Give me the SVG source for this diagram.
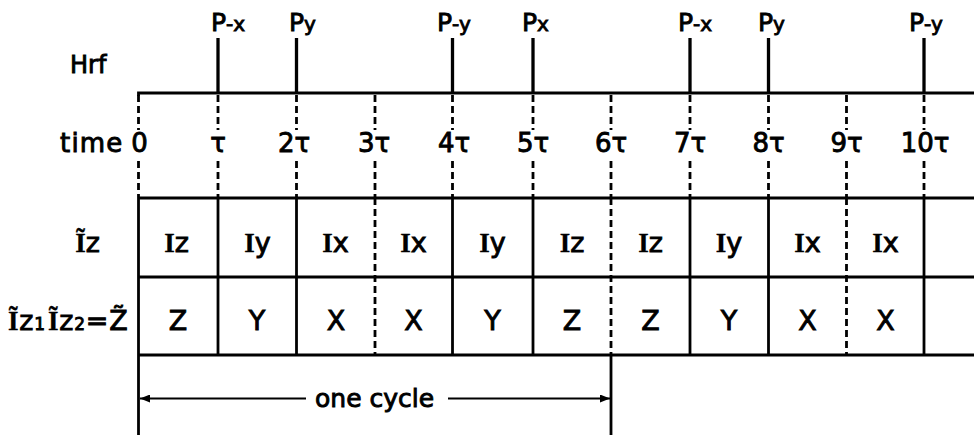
<svg xmlns="http://www.w3.org/2000/svg" width="974" height="437" viewBox="0 0 974 437">
<style>
  .t { font-family: "DejaVu Sans", "Liberation Sans", sans-serif; fill: #000; stroke: #000; stroke-width: 0.9; }
  .big { font-size: 26px; }
  .cell { font-size: 27px; text-anchor: middle; }
  .tm { font-size: 26px; text-anchor: middle; }
  .pl { font-size: 25px; }
  .sub { font-size: 20px; }
  .ser { font-family: "Liberation Serif", "Times New Roman", serif; font-weight: bold; stroke-width: 0.3; }
  .solid { stroke: #000; stroke-width: 2.8; fill: none; }
  .pulse { stroke: #000; stroke-width: 3.3; fill: none; }
  .dash { stroke: #000; stroke-width: 2.8; fill: none; stroke-dasharray: 7 4; }
</style>
<defs>
  <marker id="ah" viewBox="0 0 10 8" refX="10" refY="4" markerWidth="10" markerHeight="8" markerUnits="userSpaceOnUse" orient="auto-start-reverse">
    <path d="M0,0 L10,4 L0,8 Z" fill="#000"/>
  </marker>
</defs>

<g id="rowlabels">
  <text class="t" x="70" y="73" font-size="24">Hrf</text>
  <text class="t big" x="60" y="152" letter-spacing="1.2">time</text>
  <text class="t" x="100" y="251.5" font-size="27" text-anchor="end"><tspan class="ser">Ĩ</tspan>z</text>
  <text class="t" x="8" y="330" font-size="27" letter-spacing="0.8"><tspan class="ser">Ĩ</tspan>z<tspan font-size="17">1</tspan><tspan class="ser" dx="2">Ĩ</tspan>z<tspan font-size="17">2</tspan>=Z̃</text>
</g>

<g id="pulses">
  <line class="pulse" x1="218" y1="38" x2="218" y2="93"/>
  <line class="pulse" x1="296.5" y1="38" x2="296.5" y2="93"/>
  <line class="pulse" x1="452.5" y1="38" x2="452.5" y2="93"/>
  <line class="pulse" x1="533" y1="38" x2="533" y2="93"/>
  <line class="pulse" x1="690" y1="38" x2="690" y2="93"/>
  <line class="pulse" x1="768.5" y1="38" x2="768.5" y2="93"/>
  <line class="pulse" x1="924" y1="38" x2="924" y2="93"/>
  <text class="t pl" x="211" y="31">P<tspan class="sub">-x</tspan></text>
  <text class="t pl" x="289" y="31">P<tspan class="sub">y</tspan></text>
  <text class="t pl" x="437" y="31">P<tspan class="sub">-y</tspan></text>
  <text class="t pl" x="522" y="31">P<tspan class="sub">x</tspan></text>
  <text class="t pl" x="678" y="31">P<tspan class="sub">-x</tspan></text>
  <text class="t pl" x="758" y="31">P<tspan class="sub">y</tspan></text>
  <text class="t pl" x="909" y="31">P<tspan class="sub">-y</tspan></text>
</g>

<g id="timeline">
  <polyline class="solid" points="974,93 138.5,93 138.5,96"/>
  <path class="dash" d="M138.5,95 V130 M138.5,161 V198 M218,95 V130 M218,161 V198 M296.5,95 V130 M296.5,161 V198 M375,95 V130 M375,161 V198 M452.5,95 V130 M452.5,161 V198 M533,95 V130 M533,161 V198 M611,95 V130 M611,161 V198 M690,95 V130 M690,161 V198 M768.5,95 V130 M768.5,161 V198 M846.5,95 V130 M846.5,161 V198 M924,95 V130 M924,161 V198"/>
  <text class="t tm" x="139.5" y="152">0</text>
  <text class="t tm" x="218" y="152">τ</text>
  <text class="t tm" x="294" y="152">2τ</text>
  <text class="t tm" x="374" y="152">3τ</text>
  <text class="t tm" x="454" y="152">4τ</text>
  <text class="t tm" x="533" y="152">5τ</text>
  <text class="t tm" x="611" y="152">6τ</text>
  <text class="t tm" x="690" y="152">7τ</text>
  <text class="t tm" x="768.5" y="152">8τ</text>
  <text class="t tm" x="846.5" y="152">9τ</text>
  <text class="t tm" x="925" y="152">10τ</text>
</g>

<g id="table">
  <line class="solid" x1="138.5" y1="198" x2="974" y2="198"/>
  <line class="solid" x1="138.5" y1="277" x2="974" y2="277"/>
  <line class="solid" x1="138.5" y1="355" x2="974" y2="355"/>
  <line class="solid" x1="138.5" y1="198" x2="138.5" y2="435"/>
  <line class="solid" x1="218" y1="198" x2="218" y2="355"/>
  <line class="solid" x1="296.5" y1="198" x2="296.5" y2="355"/>
  <line class="dash" x1="375" y1="198" x2="375" y2="355"/>
  <line class="solid" x1="452.5" y1="198" x2="452.5" y2="355"/>
  <line class="solid" x1="533" y1="198" x2="533" y2="355"/>
  <line class="dash" x1="611" y1="198" x2="611" y2="355"/>
  <line class="solid" x1="611" y1="355" x2="611" y2="435"/>
  <line class="solid" x1="690" y1="198" x2="690" y2="355"/>
  <line class="solid" x1="768.5" y1="198" x2="768.5" y2="355"/>
  <line class="dash" x1="846.5" y1="198" x2="846.5" y2="355"/>
  <line class="solid" x1="924" y1="198" x2="924" y2="355"/>

  <text class="t cell" x="176.5" y="251.5"><tspan class="ser">I</tspan>z</text>
  <text class="t cell" x="257.5" y="251.5"><tspan class="ser">I</tspan>y</text>
  <text class="t cell" x="335.5" y="251.5"><tspan class="ser">I</tspan>x</text>
  <text class="t cell" x="413.5" y="251.5"><tspan class="ser">I</tspan>x</text>
  <text class="t cell" x="492.5" y="251.5"><tspan class="ser">I</tspan>y</text>
  <text class="t cell" x="572" y="251.5"><tspan class="ser">I</tspan>z</text>
  <text class="t cell" x="650.5" y="251.5"><tspan class="ser">I</tspan>z</text>
  <text class="t cell" x="729" y="251.5"><tspan class="ser">I</tspan>y</text>
  <text class="t cell" x="807.5" y="251.5"><tspan class="ser">I</tspan>x</text>
  <text class="t cell" x="885.5" y="251.5"><tspan class="ser">I</tspan>x</text>

  <text class="t cell" x="178" y="330">Z</text>
  <text class="t cell" x="257" y="330">Y</text>
  <text class="t cell" x="336" y="330">X</text>
  <text class="t cell" x="413.5" y="330">X</text>
  <text class="t cell" x="492.5" y="330">Y</text>
  <text class="t cell" x="572" y="330">Z</text>
  <text class="t cell" x="650.5" y="330">Z</text>
  <text class="t cell" x="729" y="330">Y</text>
  <text class="t cell" x="807.5" y="330">X</text>
  <text class="t cell" x="885.5" y="330">X</text>
</g>

<g id="cycle">
  <line x1="306" y1="398.5" x2="140" y2="398.5" stroke="#000" stroke-width="2" marker-end="url(#ah)"/>
  <line x1="448" y1="398.5" x2="610" y2="398.5" stroke="#000" stroke-width="2" marker-end="url(#ah)"/>
  <text class="t" x="315" y="406.5" font-size="25">one cycle</text>
</g>
</svg>
